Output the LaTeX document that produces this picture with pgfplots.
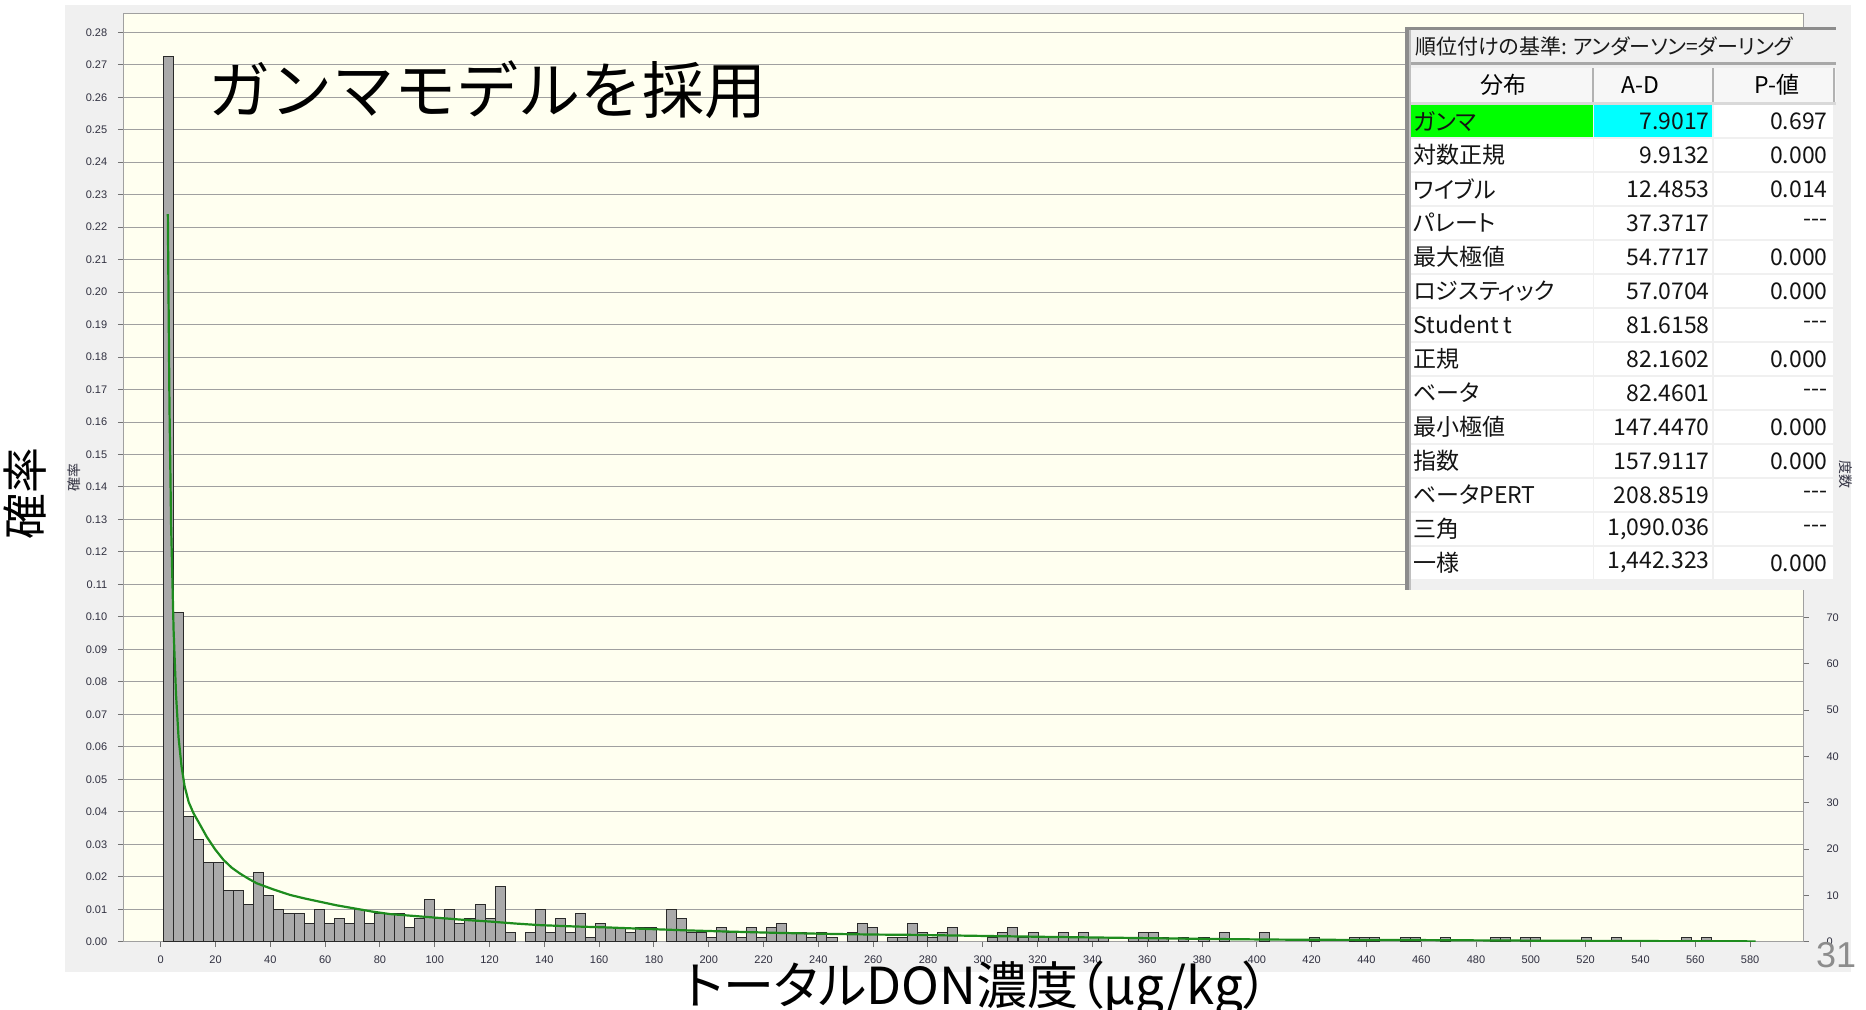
\documentclass[border=0pt]{standalone}
\usepackage{pgfplots}
\usepackage{pgfplotstable}
\pgfplotsset{compat=1.18}
\usepackage{fontspec}
\setmainfont{Liberation Sans}
\newfontfamily\jp{Noto Sans CJK JP}
\newfontfamily\jpp[RawFeature=+palt]{Noto Sans CJK JP}

\definecolor{panelgray}{HTML}{F0F0F0}
\definecolor{plotbg}{HTML}{FFFFF0}
\definecolor{gridgray}{HTML}{A0A0A0}
\definecolor{bargray}{HTML}{AAAAAA}
\definecolor{baredge}{HTML}{2A2A2A}
\definecolor{fitgreen}{HTML}{1E8C1E}
\definecolor{ticktext}{HTML}{303040}
\definecolor{numgray}{HTML}{8C8C8C}
\definecolor{hdrline}{HTML}{A8A8A8}
\definecolor{bestgreen}{RGB}{0,255,0}
\definecolor{bestcyan}{RGB}{0,255,255}

% histogram: bin centre, count (probability = count / 701)
\pgfplotstableread{
x n
2.78 191
6.45 71
10.12 27
13.79 22
17.46 17
21.13 17
24.80 11
28.47 11
32.14 8
35.81 15
39.48 10
43.15 7
46.82 6
50.49 6
54.16 4
57.83 7
61.50 4
65.16 5
68.83 4
72.50 7
76.17 4
79.84 6
83.51 6
87.18 6
90.85 3
94.52 5
98.19 9
101.86 5
105.53 7
109.20 4
112.87 5
116.54 8
120.21 5
123.88 12
127.54 2
134.88 2
138.55 7
142.22 2
145.89 5
149.56 2
153.23 6
156.90 1
160.57 4
164.24 3
167.91 3
171.58 2
175.25 3
178.92 3
186.26 7
189.92 5
193.59 2
197.26 2
200.93 1
204.60 3
208.27 2
211.94 1
215.61 3
219.28 1
222.95 3
226.62 4
230.29 2
233.96 2
237.63 1
241.30 2
244.97 1
252.30 2
255.97 4
259.64 3
266.98 1
270.65 1
274.32 4
277.99 2
281.66 1
285.33 2
289.00 3
303.68 1
307.34 2
311.01 3
314.68 1
318.35 2
322.02 1
325.69 1
329.36 2
333.03 1
336.70 2
340.37 1
344.04 1
355.05 1
358.72 2
362.39 2
366.06 1
373.39 1
380.73 1
388.07 2
402.75 2
421.10 1
435.78 1
439.44 1
443.11 1
454.12 1
457.79 1
468.80 1
487.14 1
490.81 1
498.15 1
501.82 1
520.17 1
531.18 1
556.86 1
564.20 1
}\bins

% fitted gamma curve
\pgfplotstableread{
x p
2.6 0.224
3.2 0.165
3.8 0.128
4.7 0.096
5.6 0.076
6.5 0.063
7.6 0.054
8.7 0.048
10.2 0.043
12.0 0.0395
13.7 0.0370
16.8 0.0323
19.8 0.0285
22.9 0.0252
25.9 0.0228
28.9 0.0210
32.0 0.0194
35.0 0.0180
41.1 0.0161
47.2 0.0144
52.6 0.0133
58.1 0.0123
64.2 0.0112
70.3 0.0103
77.0 0.0093
83.7 0.0085
92.8 0.0079
101.9 0.0073
111.0 0.0067
120.2 0.0062
129.3 0.0056
138.4 0.0051
150.6 0.0047
162.8 0.0044
175.0 0.0040
191.4 0.0035
207.8 0.0031
226.0 0.0027
244.3 0.0024
260.0 0.0022
275.0 0.0021
298.0 0.0018
322.0 0.0015
350.0 0.0012
377.5 0.0009
400.0 0.0007
415.0 0.0006
460.0 0.0005
505.0 0.0003
540.0 0.0002
582.0 0.0001
}\fit

\begin{document}
\begin{tikzpicture}[x=1pt,y=1pt]
\useasboundingbox (0,0) rectangle (933,505);
\fill[white] (0,0) rectangle (933,505);
\fill[panelgray] (32.5,19) rectangle (925.5,502.5);

\begin{axis}[
  at={(61.65pt,34.15pt)}, anchor=south west,
  scale only axis, width=840.1pt, height=464.2pt,
  xmin=-13.65, xmax=599.5, ymin=0, ymax=0.28585,
  axis background/.style={fill=plotbg},
  axis line style={draw=gridgray, line width=0.6pt},
  ymajorgrids, grid style={draw=gridgray, line width=0.5pt},
  xtick={0,20,...,580},
  ytick={0,0.01,0.02,0.03,0.04,0.05,0.06,0.07,0.08,0.09,0.10,0.11,0.12,0.13,0.14,
         0.15,0.16,0.17,0.18,0.19,0.20,0.21,0.22,0.23,0.24,0.25,0.26,0.27,0.28},
  xtick pos=bottom, ytick pos=left,
  tick align=outside, major tick length=2.7pt,
  major tick style={draw=black!55, line width=0.5pt},
  /pgf/number format/assume math mode=true,
  tick label style={font=\fontsize{5.5}{6}\selectfont, text=ticktext},
  yticklabel style={/pgf/number format/fixed, /pgf/number format/fixed zerofill,
                    /pgf/number format/precision=2},
  y tick label style={xshift=-1.8pt},
  x tick label style={yshift=-0.6pt},
]
\addplot[ybar, bar width=3.6694, bar shift=0pt, fill=bargray, draw=baredge, line width=0.5pt]
  table[x=x, y expr=\thisrow{n}/701] {\bins};
\addplot[fitgreen, line width=1.1pt] table[x=x, y=p] {\fit};
\end{axis}

\begin{axis}[
  at={(61.65pt,34.15pt)}, anchor=south west,
  scale only axis, width=840.1pt, height=464.2pt,
  xmin=-13.65, xmax=599.5, ymin=0, ymax=200.38,
  axis x line=none, axis y line*=right,
  axis line style={draw=gridgray, line width=0.6pt},
  ytick={0,10,...,70},
  tick align=outside, major tick length=2.5pt,
  major tick style={draw=black!55, line width=0.5pt},
  /pgf/number format/assume math mode=true,
  tick label style={font=\fontsize{5.5}{6}\selectfont, text=ticktext},
  y tick label style={xshift=5.5pt},
]
\end{axis}

% ranking table
\fill[panelgray] (702.5,210) rectangle (919,491.5);
\fill[black!45] (702.5,210) rectangle (704.5,491.5);
\fill[black!25] (704.5,210) rectangle (705.3,491.5);
\fill[black!45] (702.5,490) rectangle (918,491.5);
\fill[hdrline] (705.3,472.4) rectangle (918,473.8);
\fill[white!97!black] (705.3,454.2) rectangle (918,471.2);
\fill[black!30] (796.0,454.2) rectangle (797.2,471.2);
\fill[black!30] (856.0,454.2) rectangle (857.2,471.2);
\fill[black!30] (916.6,454.2) rectangle (917.6,471.2);
\fill[black!15] (705.3,452.6) rectangle (918,454.2);
\node[anchor=west, inner sep=0, font=\jpp\fontsize{10.5}{11}\selectfont, text=black!90]
  at (707.5,481.6) {順位付けの基準: アンダーソン=ダーリング};
\node[inner sep=0, font=\jpp\fontsize{11.5}{12}\selectfont] at (751.5,462.6) {分布};
\node[inner sep=0, font=\jpp\fontsize{11.5}{12}\selectfont] at (820,462.6) {A-D};
\node[inner sep=0, font=\jpp\fontsize{11.5}{12}\selectfont] at (888.5,462.6) {P-値};
\foreach \k/\nm/\ad/\pv in {
  0/ガンマ/7.9017/0.697,
  1/対数正規/9.9132/0.000,
  2/ワイブル/12.4853/0.014,
  3/パレート/37.3717/-{}-{}-,
  4/最大極値/54.7717/0.000,
  5/ロジスティック/57.0704/0.000,
  6/Student t/81.6158/-{}-{}-,
  7/正規/82.1602/0.000,
  8/ベータ/82.4601/-{}-{}-,
  9/最小極値/147.4470/0.000,
  10/指数/157.9117/0.000,
  11/ベータPERT/208.8519/-{}-{}-,
  12/三角/{1,090.036}/-{}-{}-,
  13/一様/{1,442.323}/0.000} {
  \pgfmathsetmacro\yt{452.5-16.99*\k}
  \fill[white] (705.35,\yt) rectangle (796.35,\yt-16.1);
  \fill[white] (797.15,\yt) rectangle (856.15,\yt-16.1);
  \fill[white] (857.15,\yt) rectangle (916.65,\yt-16.1);
  \ifnum\k=0
    \fill[bestgreen] (705.35,\yt) rectangle (796.35,\yt-16.1);
    \fill[bestcyan] (797.15,\yt) rectangle (856.15,\yt-16.1);
  \fi
  \node[anchor=west, inner sep=0, font=\jpp\fontsize{11.5}{12}\selectfont, text=black!92]
    at (706.5,\yt-8.05) {\nm};
  \node[anchor=east, inner sep=0, font=\jpp\fontsize{11.5}{12}\selectfont, text=black!92]
    at (855,\yt-8.05) {\ad};
  \node[anchor=east, inner sep=0, font=\jpp\fontsize{11.5}{12}\selectfont, text=black!92]
    at (914,\yt-8.05) {\pv};
}

% texts
\node[anchor=west, inner sep=0, font=\jp\fontsize{31}{32}\selectfont] at (104,460.2) {ガンマモデルを採用};
\node[inner sep=0, font=\jpp\fontsize{25.5}{26}\selectfont] at (488.3,10.6) {トータルDON濃度（μg/kg）};
\node[rotate=90, inner sep=0, font=\jp\fontsize{23}{24}\selectfont] at (12.5,258) {確率};
\node[rotate=90, inner sep=0, font=\jp\fontsize{7}{8}\selectfont, text=ticktext] at (37,266) {確率};
\node[rotate=-90, inner sep=0, font=\jp\fontsize{7}{8}\selectfont, text=ticktext] at (923,267.5) {度数};
\node[inner sep=0, font=\fontsize{18}{19}\selectfont, text=numgray] at (918,27.5) {31};
\end{tikzpicture}
\end{document}
